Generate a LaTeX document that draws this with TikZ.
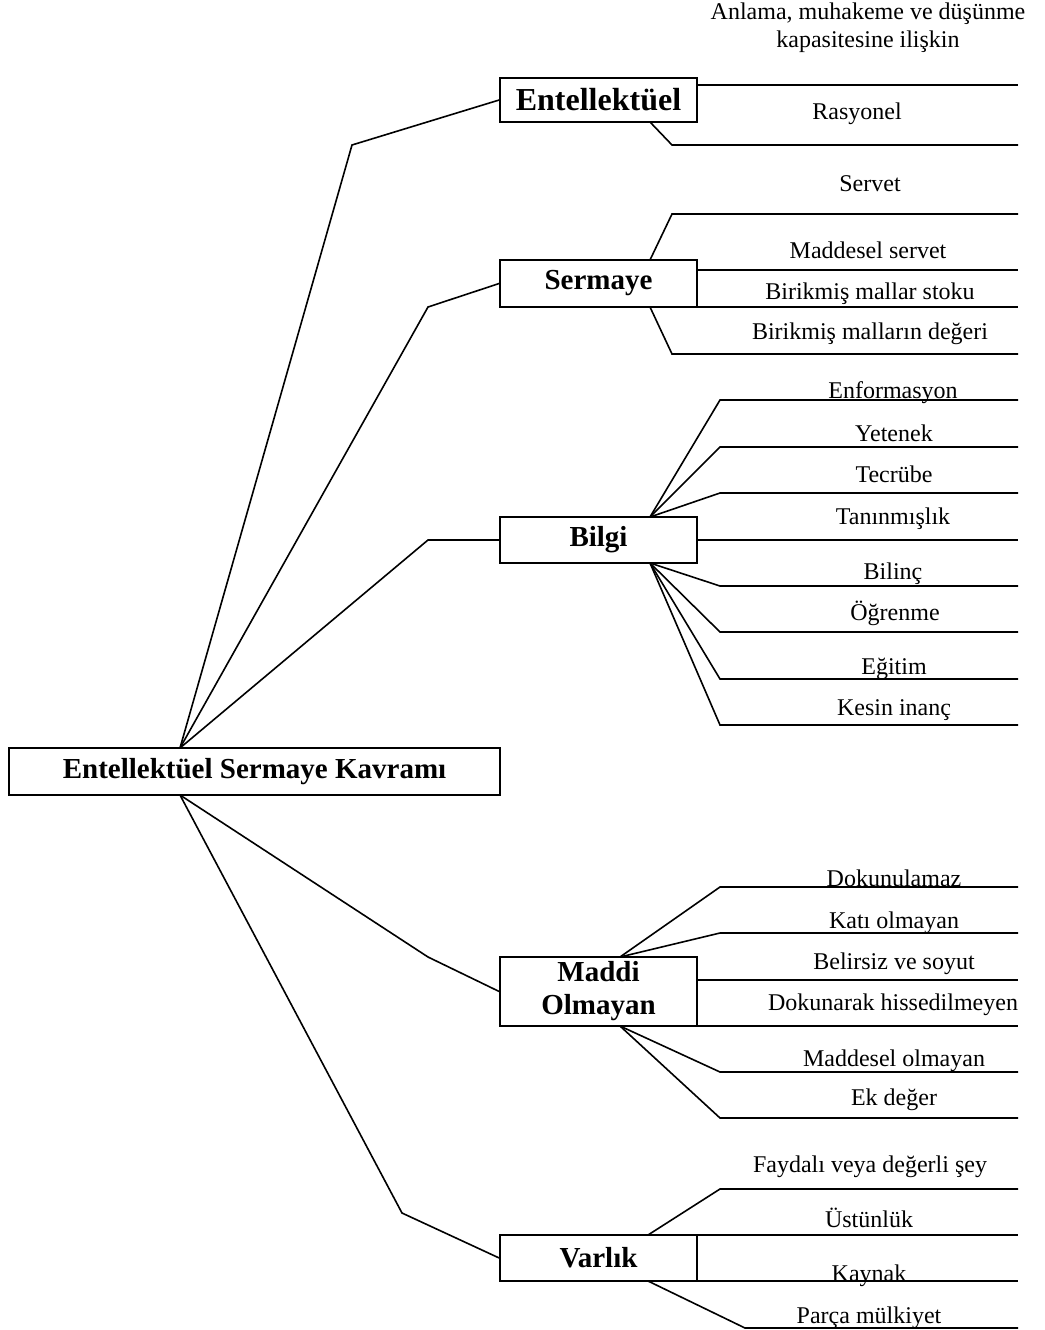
\documentclass[tikz,border=0pt]{standalone}
\usepackage{fontspec}
\setmainfont{Liberation Serif}
\begin{document}
\begin{tikzpicture}[x=1pt,y=-1pt,
  ln/.style={line width=1.6pt, line join=miter},
  box/.style={draw, line width=1.6pt, minimum width=197pt, inner sep=0pt, align=center, font=\bfseries\fontsize{29}{31}\selectfont},
  lbl/.style={font=\fontsize{24}{28}\selectfont, inner sep=0pt, anchor=base}]
\useasboundingbox (0,0) rectangle (1044,1330);

% boxes
\node[box, minimum width=491pt, minimum height=47pt] (main) at (254.5,771.5) {Entellektüel Sermaye Kavramı};
\node[box, minimum height=44pt, font=\bfseries\fontsize{32}{34}\selectfont] (ent) at (598.5,100) {Entellektüel};
\node[box, minimum height=47pt] (ser) at (598.5,283.5) {Sermaye};
\node[box, minimum height=46pt] (bil) at (598.5,540) {Bilgi};
\node[box, minimum height=69pt, font=\bfseries\fontsize{29}{33}\selectfont] (mad) at (598.5,991.5) {Maddi\\Olmayan};
\node[box, minimum height=46pt] (var) at (598.5,1258) {Varlık};

% main connections
\coordinate (mt) at (180,748);
\coordinate (mb) at (180,795);
\coordinate (k1) at (352,145);
\coordinate (k2) at (428,307);
\coordinate (k3) at (428,540);
\coordinate (k4) at (428,957);
\coordinate (k5) at (402,1213);
\draw[ln] (mt) -- (k1) -- (ent.west);
\draw[ln] (mt) -- (k2) -- (ser.west);
\draw[ln] (mt) -- (k3) -- (bil.west);
\draw[ln] (mb) -- (k4) -- (mad.west);
\draw[ln] (mb) -- (k5) -- (var.west);

% Entellektüel
\coordinate (e1a) at (697,85);   \coordinate (e1b) at (1018,85);
\coordinate (e2s) at (650,122);  \coordinate (e2k) at (672,145); \coordinate (e2b) at (1018,145);
\draw[ln] (e1a) -- (e1b);
\draw[ln] (e2s) -- (e2k) -- (e2b);
\node[lbl, align=center, anchor=north] (t0) at (868,3) {Anlama, muhakeme ve düşünme\\kapasitesine ilişkin};
\node[lbl] (t1) at (857,119) {Rasyonel};

% Sermaye
\coordinate (s1s) at (650,260); \coordinate (s1k) at (672,214); \coordinate (s1b) at (1018,214);
\coordinate (s2a) at (697,270); \coordinate (s2b) at (1018,270);
\coordinate (s3a) at (697,307); \coordinate (s3b) at (1018,307);
\coordinate (s4s) at (650,307); \coordinate (s4k) at (672,354); \coordinate (s4b) at (1018,354);
\draw[ln] (s1s) -- (s1k) -- (s1b);
\draw[ln] (s2a) -- (s2b);
\draw[ln] (s3a) -- (s3b);
\draw[ln] (s4s) -- (s4k) -- (s4b);
\node[lbl] (t2) at (870,191) {Servet};
\node[lbl] (t3) at (868,258) {Maddesel servet};
\node[lbl] (t4) at (870,299) {Birikmiş mallar stoku};
\node[lbl] (t5) at (870,339) {Birikmiş malların değeri};

% Bilgi
\coordinate (bt) at (650,517);
\coordinate (bb) at (650,563);
\foreach \y/\n in {400/1,447/2,493/3} {
  \coordinate (bk\n) at (720,\y); \coordinate (be\n) at (1018,\y);
  \draw[ln] (bt) -- (bk\n) -- (be\n);
}
\coordinate (bm) at (697,540); \coordinate (bme) at (1018,540);
\draw[ln] (bm) -- (bme);
\foreach \y/\n in {586/5,632/6,679/7,725/8} {
  \coordinate (bk\n) at (720,\y); \coordinate (be\n) at (1018,\y);
  \draw[ln] (bb) -- (bk\n) -- (be\n);
}
\node[lbl] (t6) at (893,398) {Enformasyon};
\node[lbl] (t7) at (894,441) {Yetenek};
\node[lbl] (t8) at (894,482) {Tecrübe};
\node[lbl] (t9) at (893,524) {Tanınmışlık};
\node[lbl] (t10) at (893,579) {Bilinç};
\node[lbl] (t11) at (895,620) {Öğrenme};
\node[lbl] (t12) at (894,674) {Eğitim};
\node[lbl] (t13) at (894,715) {Kesin inanç};

% Maddi Olmayan
\coordinate (dt) at (620,957);
\coordinate (db) at (620,1026);
\foreach \y/\n in {887/1,933/2} {
  \coordinate (dk\n) at (720,\y); \coordinate (de\n) at (1018,\y);
  \draw[ln] (dt) -- (dk\n) -- (de\n);
}
\coordinate (dm1) at (697,980); \coordinate (dme1) at (1018,980);
\coordinate (dm2) at (697,1026); \coordinate (dme2) at (1018,1026);
\draw[ln] (dm1) -- (dme1);
\draw[ln] (dm2) -- (dme2);
\foreach \y/\n in {1072/5,1118/6} {
  \coordinate (dk\n) at (720,\y); \coordinate (de\n) at (1018,\y);
  \draw[ln] (db) -- (dk\n) -- (de\n);
}
\node[lbl] (t14) at (894,886) {Dokunulamaz};
\node[lbl] (t15) at (894,928) {Katı olmayan};
\node[lbl] (t16) at (894,969) {Belirsiz ve soyut};
\node[lbl] (t17) at (893,1010) {Dokunarak hissedilmeyen};
\node[lbl] (t18) at (894,1066) {Maddesel olmayan};
\node[lbl] (t19) at (894,1105) {Ek değer};

% Varlık
\coordinate (vt) at (648,1235); \coordinate (vk1) at (720,1189); \coordinate (ve1) at (1018,1189);
\coordinate (va2) at (697,1235); \coordinate (ve2) at (1018,1235);
\coordinate (va3) at (697,1281); \coordinate (ve3) at (1018,1281);
\coordinate (vb) at (648,1281); \coordinate (vk4) at (745,1328); \coordinate (ve4) at (1018,1328);
\draw[ln] (vt) -- (vk1) -- (ve1);
\draw[ln] (va2) -- (ve2);
\draw[ln] (va3) -- (ve3);
\draw[ln] (vb) -- (vk4) -- (ve4);
\node[lbl] (t20) at (870,1172) {Faydalı veya değerli şey};
\node[lbl] (t21) at (869,1227) {Üstünlük};
\node[lbl] (t22) at (869,1281) {Kaynak};
\node[lbl] (t23) at (869,1323) {Parça mülkiyet};
\end{tikzpicture}
\end{document}
